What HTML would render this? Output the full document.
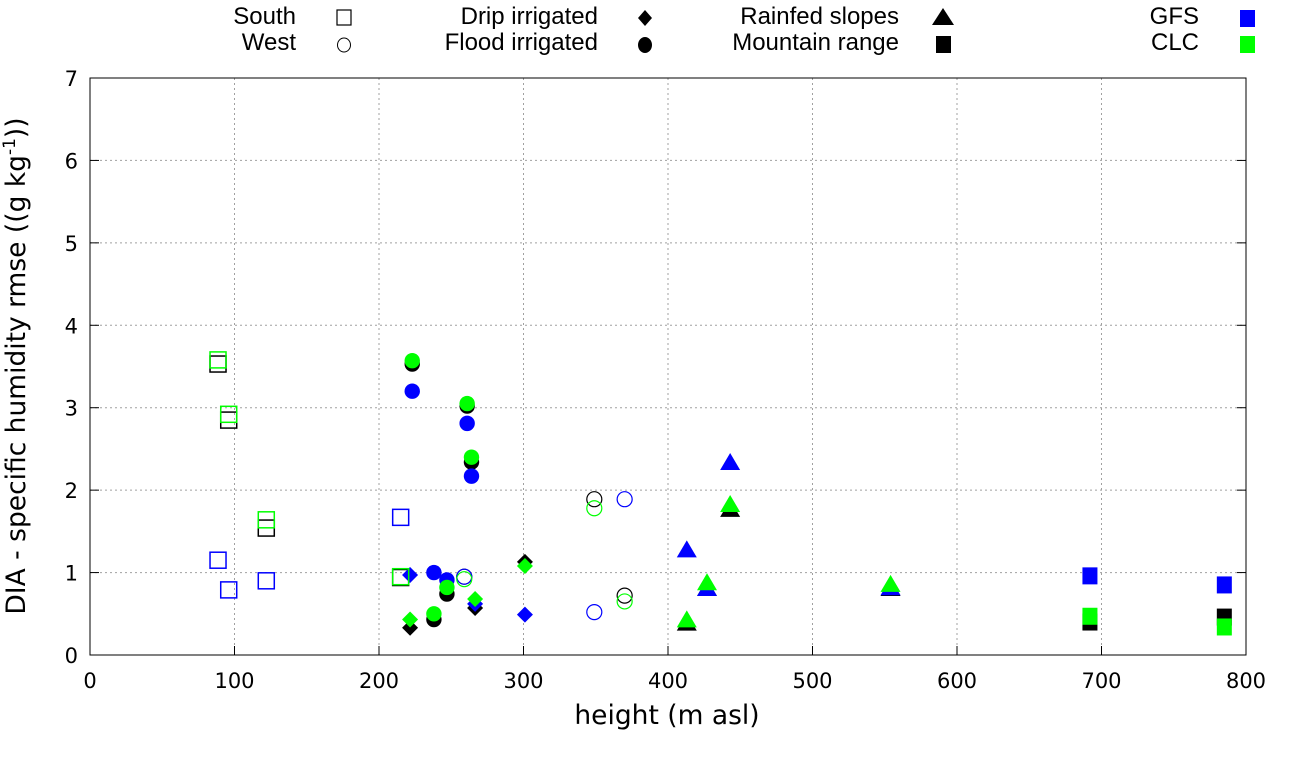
<!DOCTYPE html>
<html><head><meta charset="utf-8">
<style>
html,body{margin:0;padding:0;background:#fff;}
svg{display:block;font-family:"DejaVu Sans",sans-serif;}
</style></head>
<body>
<svg id="chart" width="1290" height="760" viewBox="0 0 1290 760">
<g id="grid"></g>
<g id="axes"></g>
<g id="marks"></g>
<g id="legend"></g>
<text x="667" y="724" font-size="26.5" text-anchor="middle">height (m asl)</text>
<text transform="translate(25,366) rotate(-90)" font-size="26.5" text-anchor="middle">DIA - specific humidity rmse ((g kg<tspan dy="-10" font-size="17">-1</tspan><tspan dy="10">))</tspan></text>
</svg>
<script>
// ---- data ----
const xTicks = [0,100,200,300,400,500,600,700,800];
const yTicks = [0,1,2,3,4,5,6,7];
const southH   = [88.6, 96, 122, 215];
const southBlk = [3.53, 2.85, 1.54, 0.94];
const southBlu = [1.15, 0.79, 0.90, 1.67];
const southGrn = [3.58, 2.92, 1.64, 0.95];
const westH   = [259, 349, 370];
const westBlk = [0.95, 1.89, 0.72];
const westBlu = [0.95, 0.52, 1.89];
const westGrn = [0.92, 1.78, 0.65];
const dripH   = [221.5, 266.5, 301];
const dripBlk = [0.33, 0.57, 1.13];
const dripBlu = [0.97, 0.62, 0.49];
const dripGrn = [0.43, 0.68, 1.08];
const floodH   = [223, 261, 264, 238, 247];
const floodBlk = [3.53, 3.02, 2.34, 0.43, 0.74];
const floodBlu = [3.20, 2.81, 2.17, 1.00, 0.91];
const floodGrn = [3.57, 3.05, 2.40, 0.50, 0.82];
const rainH   = [413, 443, 427, 554];
const rainBlk = [0.38, 1.76, 0.80, 0.80];
const rainBlu = [1.27, 2.33, 0.80, 0.81];
const rainGrn = [0.42, 1.82, 0.87, 0.85];
const mtnH   = [692, 785];
const mtnBlk = [0.40, 0.46];
const mtnBlu = [0.96, 0.85];
const mtnGrn = [0.47, 0.34];

const NS='http://www.w3.org/2000/svg';
const X0=90,X1=1246,Y0=655,Y1=78;
function xs(v){return X0+(v-0)/(800-0)*(X1-X0);}
function ys(v){return Y0-(v-0)/(7-0)*(Y0-Y1);}
function mk(tag,attrs,parent){const e=document.createElementNS(NS,tag);for(const k in attrs)e.setAttribute(k,attrs[k]);parent.appendChild(e);return e;}
const grid=document.getElementById('grid'),axes=document.getElementById('axes'),marks=document.getElementById('marks'),legend=document.getElementById('legend');

xTicks.forEach(t=>{
  const x=xs(t);
  if(t>0&&t<800){const g=mk('line',{x1:x,y1:Y1,x2:x,y2:Y0,stroke:'#a0a0a0','stroke-dasharray':'2,3','stroke-width':1},grid);
  
  }
  const tk=mk('line',{x1:x,y1:Y0,x2:x,y2:Y0-9,stroke:'#000','stroke-width':1},axes);
  
  
  const tx=mk('text',{x:x,y:Y0+33,'font-size':21,'text-anchor':'middle'},axes);tx.textContent=t;
  
  
});
yTicks.forEach(t=>{
  const y=ys(t);
  if(t>0&&t<7){const g=mk('line',{x1:X0,y1:y,x2:X1,y2:y,stroke:'#a0a0a0','stroke-dasharray':'2,3','stroke-width':1},grid);
  
  }
  const tk=mk('line',{x1:X0,y1:y,x2:X0+9,y2:y,stroke:'#000','stroke-width':1},axes);
  
  
  const tk2=mk('line',{x1:X1,y1:y,x2:X1-9,y2:y,stroke:'#000','stroke-width':1},axes);
  
  
  const tx=mk('text',{x:X0-12,y:y+8,'font-size':21,'text-anchor':'end'},axes);tx.textContent=t;
  
  
});
const frame=mk('rect',{x:X0,y:Y1,width:X1-X0,height:Y0-Y1,fill:'none',stroke:'#000','stroke-width':1},axes);



function shape(kind,cx,cy,col,parent){
  let e;
  if(kind==='osq'){e=mk('rect',{x:cx-8,y:cy-8,width:16,height:16,fill:'none',stroke:col,'stroke-width':1.5},parent);}
  else if(kind==='oci'){e=mk('circle',{cx:cx,cy:cy,r:7.5,fill:'none',stroke:col,'stroke-width':1.2},parent);}
  else if(kind==='dia'){e=mk('polygon',{points:`${cx},${cy-8} ${cx+8},${cy} ${cx},${cy+8} ${cx-8},${cy}`,fill:col},parent);}
  else if(kind==='fci'){e=mk('circle',{cx:cx,cy:cy,r:7.7,fill:col},parent);}
  else if(kind==='tri'){e=mk('polygon',{points:`${cx},${cy-10} ${cx+10},${cy+7} ${cx-10},${cy+7}`,fill:col},parent);}
  else {e=mk('rect',{x:cx-7.5,y:cy-8.5,width:15,height:17,fill:col},parent);}
  return e;
}
const cats=[
  ['osq',southH,southBlk,southBlu,southGrn,'south'],
  ['oci',westH,westBlk,westBlu,westGrn,'west'],
  ['dia',dripH,dripBlk,dripBlu,dripGrn,'drip-irrigated'],
  ['fci',floodH,floodBlk,floodBlu,floodGrn,'flood-irrigated'],
  ['tri',rainH,rainBlk,rainBlu,rainGrn,'rainfed-slopes'],
  ['fsq',mtnH,mtnBlk,mtnBlu,mtnGrn,'mountain-range']
];
const cols=[['#000000',2,'obs'],['#0000ff',3,'gfs'],['#00ff00',4,'clc']];
cols.forEach(([col,idx,nm])=>{
  cats.forEach(c=>{
    c[1].forEach((h,i)=>{
      const e=shape(c[0],xs(h),ys(c[idx][i]),col,marks);
      
      
    });
  });
});

// legend
const leg=[
  ['South',296,17,'osq','#000'],['West',296,43,'oci','#000'],
  ['Drip irrigated',598,17,'dia','#000'],['Flood irrigated',598,43,'fci','#000'],
  ['Rainfed slopes',899,17,'tri','#000'],['Mountain range',899,43,'fsq','#000'],
  ['GFS',1199,17,'fsq','#0000ff'],['CLC',1199,43,'fsq','#00ff00']
];
const markerX={296:344,598:645,899:943,1199:1247};
leg.forEach(([lab,tx,cy,k,col])=>{
  const t=mk('text',{x:tx,y:cy+7,'font-size':24,'text-anchor':'end','font-family':'Liberation Sans, sans-serif'},legend);t.textContent=lab;
  
  
  let e;
  const mx=markerX[tx];
  if(k==='osq'){e=mk('rect',{x:mx-7,y:cy-7,width:14,height:15,fill:'none',stroke:col,'stroke-width':1.2},legend);}
  else if(k==='oci'){e=mk('ellipse',{cx:mx,cy:cy+2,rx:6.5,ry:7,fill:'none',stroke:col,'stroke-width':1},legend);}
  else if(k==='dia'){e=mk('polygon',{points:`${mx},${cy-7} ${mx+7},${cy+1} ${mx},${cy+9} ${mx-7},${cy+1}`,fill:col},legend);}
  else if(k==='fci'){e=mk('ellipse',{cx:mx,cy:cy+2,rx:7,ry:8,fill:col},legend);}
  else if(k==='tri'){e=mk('polygon',{points:`${mx},${cy-9} ${mx+11},${cy+8} ${mx-11},${cy+8}`,fill:col},legend);}
  else {e=mk('rect',{x:mx-7,y:cy-7,width:15,height:17,fill:col},legend);}
  
  
});
</script>
</body></html>
